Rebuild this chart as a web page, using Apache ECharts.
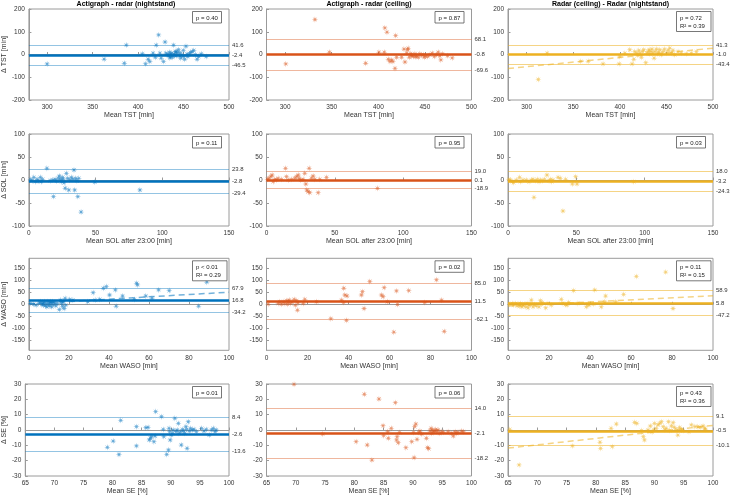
<!DOCTYPE html>
<html><head><meta charset="utf-8">
<script src="https://cdn.jsdelivr.net/npm/echarts@6/dist/echarts.min.js"></script>
<style>html,body{margin:0;padding:0;background:#fff}#c{width:730px;height:496px}</style>
</head><body><div id="c"></div>
<script>
// ---------- DATA ----------
const colTitles = ['Actigraph - radar (nightstand)', 'Actigraph - radar (ceiling)', 'Radar (ceiling) - Radar (nightstand)'];
const xTitles = ['Mean TST [min]', 'Mean SOL after 23:00 [min]', 'Mean WASO [min]', 'Mean SE [%]'];
const yTitles = ['Δ TST [min]', 'Δ SOL [min]', 'Δ WASO [min]', 'Δ SE [%]'];
const xTicks = [[300,350,400,450,500],[0,50,100,150],[0,20,40,60,80,100],[65,70,75,80,85,90,95,100]];
const yTicks = [[-200,-100,0,100,200],[-100,-50,0,50,100],[-150,-100,-50,0,50,100,150],[-30,-20,-10,0,10,20,30]];

const tstActNight = [[300,-41.5],[362.7,-20.7],[384.9,-38.5],[387.1,41.5],[404.7,3],[408.2,-41],[411.1,-21],[413,-31],[416.5,6],[419,-12],[420,41],[422.6,86],[424,6],[425.4,-16],[428,-31],[429.7,55],[430.5,6],[432.6,0],[434.4,10],[435.5,-9],[437,6],[438,-12],[439,41],[439.8,3],[441,13],[442,-6],[443.4,6],[444.4,21],[445.9,-6],[447,-16],[448,-1],[449.8,18],[451.3,-21],[452.7,36],[453.8,1],[454.8,-9],[456.3,3],[457.7,9],[459.5,13],[461.3,18],[463.1,-1],[464.9,-21],[466.7,-9],[469.5,3],[474.9,-9],[433,-4],[436,2],[440,-3],[446,8],[450,-8],[435,-15],[442,12]];
const tstActCeil = [[300.7,-41.5],[332,154],[347.5,10],[386.4,-38.5],[400.7,10],[406.4,10],[407,117],[409.3,98],[410.7,-21],[412.5,-31],[414.3,-24],[415.7,-31],[417.9,-61],[418.6,83],[419.6,-12],[425,-12],[427.5,24],[428.6,-33],[430.4,6],[431.4,21],[432,27],[433.2,-12],[434.6,3],[435.7,-1],[437.5,-9],[439.3,3],[441,-6],[442.9,-12],[444.6,3],[448.2,-1],[449.3,-12],[450.7,-6],[452.9,-9],[455.4,-1],[457.9,6],[460,-9],[462.5,-1],[464.3,10],[466,-6],[467.1,-24],[468.9,3],[474.3,-6],[479.3,-15],[436,-5],[440,-10],[446,-4]];
const tstRadar = [[322,6],[312.5,-110],[357.9,-30],[366,-30],[382,-41],[399.3,-41],[400,-9],[405.4,6],[410.7,21],[413.2,-41],[415,-21],[416,13],[417.9,6],[419,-3],[420.4,18],[421.4,6],[423.2,-12],[424.3,13],[425.7,21],[427.9,-36],[428.9,6],[430.4,13],[431.4,21],[432,3],[433.6,13],[434.6,24],[435.7,6],[436.8,-16],[437.9,13],[439.3,24],[440.4,3],[441.8,9],[442.9,21],[444.6,-1],[446.4,13],[447.9,24],[450,6],[451.8,18],[453.6,28],[455.4,6],[457.1,18],[458.9,-1],[462.5,13],[466,6],[471.4,3],[476.8,6],[482.1,13]];
const solActNight = [[1.2,1.4],[2.4,-1.4],[3.7,5.8],[4.9,-3.6],[6.1,1.4],[7.3,-2.2],[8.6,5.8],[9.3,-3.6],[10.3,1.4],[13.5,25.4],[15.9,-1.4],[17.9,0],[18.4,-36],[19.6,1.4],[20.8,-2.2],[22,3.6],[22.8,8.7],[23.7,1.4],[24.5,-3.6],[25.2,5.8],[25.7,1.4],[26.4,-5.8],[27.2,-18],[28.1,14.5],[28.9,3.6],[29.9,-21.7],[30.6,0],[31.8,5.8],[33,1.4],[33.8,21.7],[34.3,-21.7],[35,3.6],[36,-1.4],[36.7,-36],[37.4,3.6],[39.1,-69.6],[49.4,-4.3],[83.2,-21.7]];
const solActCeil = [[0.7,1.4],[1.7,3.6],[3.2,7.2],[4.1,10.9],[4.9,-3.6],[6.1,1.4],[7.3,0],[8.5,3.6],[11,1.4],[13.9,25.4],[14.6,7.2],[15.9,0],[18.3,1.4],[20.7,3.6],[22,7.2],[23.2,10.9],[23.9,3.6],[25.1,0],[26.8,1.4],[28,14.5],[28.8,-8.7],[29.5,-21.7],[30.5,-25.4],[31.2,25.4],[31.7,-27.5],[32.9,3.6],[34.1,8.7],[35.4,1.4],[37.8,-27.5],[39,1.4],[43.9,5.8],[81.2,-18.1]];
const solRadar = [[0.7,1.4],[1.7,0],[3.2,-3.6],[4.1,-5.8],[6.1,0],[8.5,5.8],[9,-3.6],[11,0],[13.4,0],[15.4,-3.6],[17.1,0],[18.3,1.4],[19,-37.7],[20.2,-1.4],[21.5,1.4],[22.7,-3.6],[23.7,0],[25.1,-1.4],[26.8,1.4],[28.5,10.9],[30,-1.4],[31,1.4],[32,-3.6],[32.9,0],[36.6,5.8],[38.3,3.6],[40.2,-67.4],[42.2,1.4],[47.1,-8.7],[49.5,7.2],[50.5,-8.7],[92,-3.6]];
const wasoActNight = [[0.8,3.5],[2.4,0.7],[3.6,-3.5],[4.9,3.5],[5.7,10.5],[6.5,-0.7],[7,6.3],[7.3,-3.5],[7.8,10.5],[8.2,-6.3],[8.6,3.5],[9,-10.5],[9.5,10.5],[9.8,0.7],[10.3,-6.3],[10.6,10.5],[11.1,3.5],[11.4,-10.5],[11.9,10.5],[12.2,-0.7],[13.1,6.3],[13.5,-6.3],[14.2,3.5],[15.2,-21.7],[15.8,17.4],[16.3,3.5],[16.8,-7.7],[17.1,10.5],[17.6,-17.4],[18.1,24.4],[18.4,-3.5],[20.4,20.2],[22,17.4],[29.4,10.5],[32.1,48.1],[33.1,17.4],[35.4,20.2],[37.2,66.3],[38.7,73.2],[40.3,38.4],[43.2,59.3],[43.6,-7.7],[46.8,34.2],[52.7,20.2],[53.8,87.2],[54.3,80.2],[58.4,34.2],[61.5,24.4],[64.8,59.3],[70.1,56.5],[84.8,-7.7],[88.9,91.4]];
const wasoActCeil = [[0.8,0.7],[5.7,3.5],[6.5,10.5],[7.3,0.7],[8.1,10.5],[8.9,3.5],[9.8,14.6],[10.2,0.7],[10.6,10.5],[11.1,17.4],[11.7,3.5],[12.5,10.5],[13.5,20.2],[14.1,-3.5],[14.6,14.6],[15.1,-24.4],[15.4,6.3],[17.9,3.5],[18.7,20.2],[24.4,10.5],[31.4,-59.3],[36.6,17.4],[37.6,7.7],[37.7,66.3],[38.2,38.4],[39,-66.3],[39.3,34.2],[46.3,38.4],[46.8,52.3],[47.6,-17.4],[50.4,94.1],[56.1,38.4],[56.9,31.4],[57.4,69],[58.9,10.5],[62.1,-115],[63.4,55.1],[63.9,-0.7],[69.4,56.5],[77.2,7.7],[82.9,101],[85.4,17.4],[86.7,-112]];
const wasoRadar = [[0.8,0.7],[2.1,3.5],[2.8,-3.5],[3.7,3.5],[4.4,-6.3],[4.9,0.7],[5.7,-7.7],[6.2,3.5],[6.8,-10.5],[7.3,-3.5],[8.1,0.7],[8.6,-10.5],[9.3,3.5],[9.8,-14.6],[10.2,-3.5],[11.1,0.7],[11.4,17.4],[12.2,-10.5],[13,-0.7],[13.8,-6.3],[15.1,-10.5],[15.8,14.6],[16.3,0.7],[16.7,6.3],[18.4,-14.6],[19.5,3.5],[21.1,-3.5],[26,20.2],[26.8,3.5],[28.1,-0.7],[28.8,-3.5],[29.6,7.7],[32,56.5],[34.1,3.5],[38.2,-10.5],[39,0.7],[39.5,-3.5],[42.3,59.3],[41.8,0.7],[45.5,-10.5],[47.2,10.5],[47.6,34.2],[52.5,10.5],[56.4,41.1],[62.6,115],[76.9,133],[80.5,-17.4]];
const seActNight = [[79.1,-11.3],[80.1,-7.2],[81.1,-16],[81.4,6.3],[84.1,2.2],[84.1,-10.4],[85.7,1.5],[86.1,1.7],[86.3,-6.5],[86.5,-5.4],[86.7,-4.3],[87.1,-7.6],[87.3,-3.9],[87.4,12],[88.4,8.7],[88.7,0.4],[88.8,-4.3],[89.3,-15.9],[89.6,-13],[89.7,1.1],[89.8,-1.1],[89.9,-6.5],[90.1,-3.3],[90.3,-2.2],[90.4,0],[90.7,7.6],[90.9,-1.1],[91.1,0],[91.3,4.3],[91.4,-2.2],[91.7,-1.1],[91.8,-9.8],[92,0.4],[92.2,-0.7],[92.4,-2.2],[92.6,2.2],[92.7,0.4],[92.8,-12],[93,5.4],[93.2,-0.7],[93.4,1.1],[93.7,0],[94,0.4],[94.4,-1.1],[95.3,1.1],[95.7,-0.7],[96.1,0.4],[96.6,-3.3],[97,0],[97.3,1.1],[97.6,-1.1],[97.8,0]];
const seActCeil = [[69.7,29.8],[74.6,-2.6],[80.3,-7.6],[81.7,23.3],[82.2,-9.8],[83,-19.6],[84.2,20.2],[84.9,2.8],[85,-3.7],[85.7,-1.1],[85.8,-5.4],[86.3,1.1],[87,17.8],[87.2,-6.5],[87.3,-4.3],[87.5,-8.3],[87.7,-1.7],[88.8,-11.5],[89.8,-7.6],[90.1,-1.7],[90.2,-18],[90.3,2.2],[90.5,3.9],[90.7,-6.1],[91,-1.7],[91.2,-0.7],[91.5,-2.6],[92.3,-5.4],[92.5,-11.5],[92.7,-12.2],[92.9,-0.7],[93.1,1.1],[93.2,-2.2],[93.3,0],[93.5,-1.1],[93.7,-0.7],[93.9,0.4],[94.1,-1.1],[94.3,0],[94.6,-2.2],[94.9,-1.1],[95.2,-1.5],[96,-1.1],[96.6,-2.2],[96.9,-3.9],[97.2,-1.1],[97.4,-2.2],[97.7,-1.5],[98.3,-0.7],[98.6,-1.1]];
const seRadar = [[65.3,0.4],[66.9,-22.8],[76,-10.4],[80.7,-8],[80.8,-12],[82.6,1.1],[82.8,-10.9],[83.5,3.9],[86.6,5],[87,4.3],[87.8,-0.4],[88.1,-4.3],[88.3,-6.5],[88.9,0],[89.3,2.6],[89.6,-1.3],[89.9,0],[90,4.3],[90.3,1.1],[90.6,3.3],[90.9,4.3],[91.2,5.4],[91.5,2.2],[91.8,0],[92,1.1],[92.4,5.4],[92.6,-0.4],[92.9,2.6],[93.2,4.8],[93.4,1.7],[93.7,0.4],[94,-3.3],[94.3,1.7],[94.6,0.4],[94.9,-0.4],[95.9,-1.1],[96.3,3.3],[96.9,2.2],[97.4,2.2],[97.8,1.7],[98.3,2.6],[98.6,1.1],[98.7,0.4]];

const panelData = [[tstActNight, tstActCeil, tstRadar],[solActNight, solActCeil, solRadar],[wasoActNight, wasoActCeil, wasoRadar],[seActNight, seActCeil, seRadar]];
const meanDiff = [[-2.4,-0.8,-1.0],[-2.8,0.1,-3.2],[16.8,11.5,5.8],[-2.6,-2.1,-0.5]];
const upperLoA = [[41.6,68.1,41.3],[23.8,19.0,18.0],[67.9,85.0,58.9],[8.4,14.0,9.1]];
const lowerLoA = [[-46.5,-69.6,-43.4],[-29.4,-18.9,-24.3],[-34.2,-62.1,-47.2],[-13.6,-18.2,-10.1]];
const pTexts = [['p = 0.40','p = 0.87','p = 0.72'],['p = 0.11','p = 0.95','p = 0.03'],['p < 0.01','p = 0.02','p = 0.11'],['p = 0.01','p = 0.06','p = 0.43']];
const r2Texts = [[null,null,'0.39'],[null,null,null],['0.29',null,'0.15'],[null,null,'0.36']];
// regression fits (endpoints in data units) for panels with R²
const regTst3 = [[280,-62],[500,28]];
const regWaso1 = [[0,2],[100,50]];
const regWaso3 = [[0,-7],[100,35]];
const regSe3 = [[65,-11.8],[100,3]];
const regLines = [[null,null,regTst3],[null,null,null],[regWaso1,null,regWaso3],[null,null,regSe3]];

// ---------- LAYOUT / STYLE ----------
const colors = ['#0072BD','#D95319','#EDB120'];
const loaColors = ['rgba(0,114,189,0.42)','rgba(217,83,25,0.42)','rgba(237,177,32,0.55)'];
const gLeft = [23, 266.5, 508], gWidth = [206, 205, 205];
const gTop = [9, 134, 258.3, 384], gHeight = [91, 92, 92, 92];
const xRange = [[280,500],[0,150],[0,100],[65,100]];
const yRange = [[-200,200],[-100,100],[-190,190],[-30,30]];
const FONT = '"Liberation Sans", Arial, sans-serif';
const star = 'path://M1,0 L0.28,0.12 L0.707,0.707 L0.12,0.28 L0,1 L-0.12,0.28 L-0.707,0.707 L-0.28,0.12 L-1,0 L-0.28,-0.12 L-0.707,-0.707 L-0.12,-0.28 L0,-1 L0.12,-0.28 L0.707,-0.707 L0.28,-0.12 Z';

const grids = [], xAxes = [], yAxes = [], series = [], graphics = [];
for (let r = 0; r < 4; r++) {
  for (let c = 0; c < 3; c++) {
    const i = r * 3 + c;
    const col = colors[c];
    grids.push({left: gLeft[c], top: gTop[r], width: gWidth[c], height: gHeight[r], show: true, borderColor: '#9a9a9a', borderWidth: 1, containLabel: false});
    xAxes.push({type: 'value', gridIndex: i, min: xRange[r][0], max: xRange[r][1],
      name: xTitles[r], nameLocation: 'middle', nameGap: 12,
      nameTextStyle: {fontSize: 7, color: '#333', fontFamily: FONT},
      axisLine: {show: true, lineStyle: {color: '#9a9a9a'}},
      axisTick: {show: true, inside: true, length: 2.5, customValues: xTicks[r], lineStyle: {color: '#9a9a9a'}},
      axisLabel: {customValues: xTicks[r], fontSize: 6.5, color: '#333', margin: 4, fontFamily: FONT},
      splitLine: {show: false}});
    yAxes.push({type: 'value', gridIndex: i, min: yRange[r][0], max: yRange[r][1],
      name: c === 0 ? yTitles[r] : '', nameLocation: 'middle', nameGap: 14,
      nameTextStyle: {fontSize: 7, color: '#333', fontFamily: FONT},
      axisLine: {show: true, lineStyle: {color: '#9a9a9a'}},
      axisTick: {show: true, inside: true, length: 2.5, customValues: yTicks[r], lineStyle: {color: '#9a9a9a'}},
      axisLabel: {customValues: yTicks[r], fontSize: 6.5, color: '#333', margin: 4, fontFamily: FONT},
      splitLine: {show: false}});
    const ml = (v, w, lc) => ({yAxis: v, name: v.toFixed(1), lineStyle: {color: lc, width: w, type: 'solid'}});
    series.push({type: 'scatter', xAxisIndex: i, yAxisIndex: i, data: panelData[r][c],
      symbol: star, symbolSize: 6.5, itemStyle: {color: col, opacity: 0.6}, z: 3, silent: true, animation: false,
      markLine: {silent: true, symbol: ['none','none'], animation: false,
        label: {position: 'end', formatter: '{b}', fontSize: 6, color: '#333', distance: 3, fontFamily: FONT},
        data: [ml(upperLoA[r][c], 1, loaColors[c]), ml(meanDiff[r][c], 2.5, col), ml(lowerLoA[r][c], 1, loaColors[c])]}});
    if (regLines[r][c]) {
      series.push({type: 'line', xAxisIndex: i, yAxisIndex: i, data: regLines[r][c], showSymbol: false, silent: true, animation: false,
        lineStyle: {color: col, width: 1.5, opacity: 0.55, type: [6, 4]}, z: 2});
    }
    // stats box
    const right = gLeft[c] + gWidth[c];
    const two = !!r2Texts[r][c];
    const bx = right - 36.5, by = gTop[r] + 2.5;
    const bw = two ? 34.5 : 29, bh = two ? 20 : 11.5;
    graphics.push({type: 'rect', shape: {x: bx, y: by, width: bw, height: bh}, style: {fill: '#fff', stroke: '#555', lineWidth: 0.8}, z: 10});
    graphics.push({type: 'text', x: bx + 3.5, y: by + 2.8, z: 11,
      style: {text: two ? pTexts[r][c] + '\nR² = ' + r2Texts[r][c] : pTexts[r][c], font: '6px ' + FONT, fill: '#222', lineHeight: 8, verticalAlign: 'top'}});
  }
}
for (let c = 0; c < 3; c++) {
  graphics.push({type: 'text', x: gLeft[c] + gWidth[c] / 2, y: 4, z: 11,
    style: {text: colTitles[c], font: 'bold 7px ' + FONT, fill: '#000', align: 'center', verticalAlign: 'middle'}});
}

const chart = echarts.init(document.getElementById('c'), null, {renderer: 'canvas'});
chart.setOption({animation: false, backgroundColor: '#fff', grid: grids, xAxis: xAxes, yAxis: yAxes, series: series, graphic: graphics});
</script></body></html>
